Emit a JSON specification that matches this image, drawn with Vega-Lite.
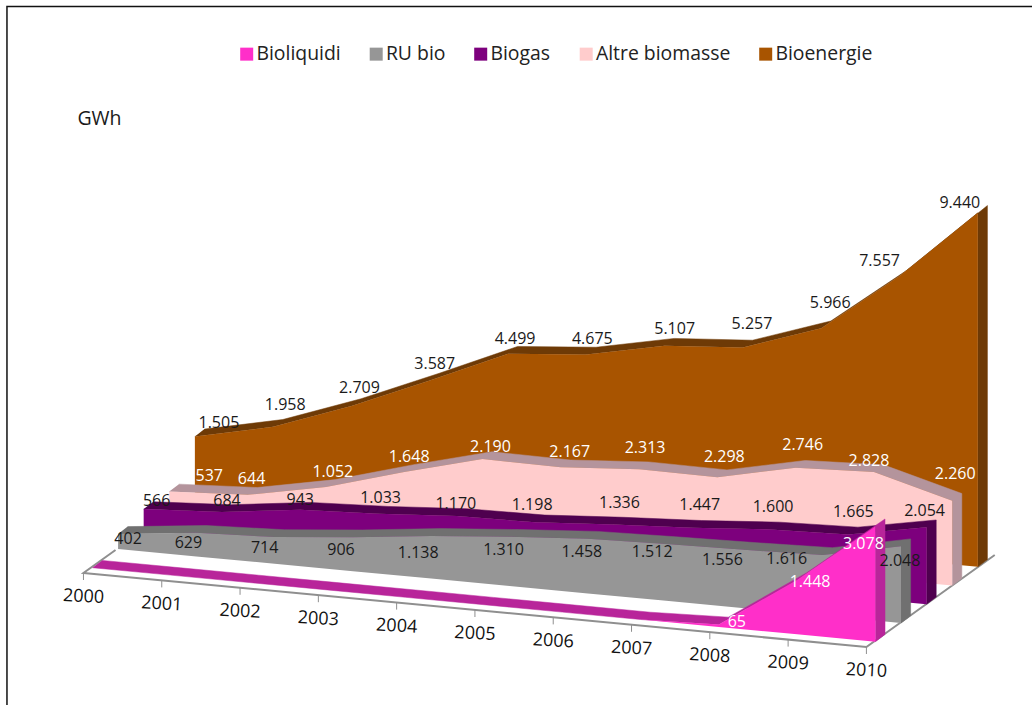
{
  "$schema": "https://vega.github.io/schema/vega-lite/v6.json",
  "width": 1032,
  "height": 705,
  "padding": 0,
  "autosize": {"type": "none"},
  "background": "white",
  "config": {
    "view": {"stroke": null},
    "axis": {"disable": true},
    "text": {"font": "Open Sans", "fontSize": 16, "baseline": "middle", "align": "center"}
  },
  "datasets": {
    "production": [
      {"series":"Bioliquidi","year":2000,"value":0},{"series":"Bioliquidi","year":2001,"value":0},{"series":"Bioliquidi","year":2002,"value":0},{"series":"Bioliquidi","year":2003,"value":0},{"series":"Bioliquidi","year":2004,"value":0},{"series":"Bioliquidi","year":2005,"value":0},{"series":"Bioliquidi","year":2006,"value":0},{"series":"Bioliquidi","year":2007,"value":0},{"series":"Bioliquidi","year":2008,"value":65},{"series":"Bioliquidi","year":2009,"value":1448},{"series":"Bioliquidi","year":2010,"value":3078},
      {"series":"RU bio","year":2000,"value":402},{"series":"RU bio","year":2001,"value":629},{"series":"RU bio","year":2002,"value":714},{"series":"RU bio","year":2003,"value":906},{"series":"RU bio","year":2004,"value":1138},{"series":"RU bio","year":2005,"value":1310},{"series":"RU bio","year":2006,"value":1458},{"series":"RU bio","year":2007,"value":1512},{"series":"RU bio","year":2008,"value":1556},{"series":"RU bio","year":2009,"value":1616},{"series":"RU bio","year":2010,"value":2048},
      {"series":"Biogas","year":2000,"value":566},{"series":"Biogas","year":2001,"value":684},{"series":"Biogas","year":2002,"value":943},{"series":"Biogas","year":2003,"value":1033},{"series":"Biogas","year":2004,"value":1170},{"series":"Biogas","year":2005,"value":1198},{"series":"Biogas","year":2006,"value":1336},{"series":"Biogas","year":2007,"value":1447},{"series":"Biogas","year":2008,"value":1600},{"series":"Biogas","year":2009,"value":1665},{"series":"Biogas","year":2010,"value":2054},
      {"series":"Altre biomasse","year":2000,"value":537},{"series":"Altre biomasse","year":2001,"value":644},{"series":"Altre biomasse","year":2002,"value":1052},{"series":"Altre biomasse","year":2003,"value":1648},{"series":"Altre biomasse","year":2004,"value":2190},{"series":"Altre biomasse","year":2005,"value":2167},{"series":"Altre biomasse","year":2006,"value":2313},{"series":"Altre biomasse","year":2007,"value":2298},{"series":"Altre biomasse","year":2008,"value":2746},{"series":"Altre biomasse","year":2009,"value":2828},{"series":"Altre biomasse","year":2010,"value":2260},
      {"series":"Bioenergie","year":2000,"value":1505},{"series":"Bioenergie","year":2001,"value":1958},{"series":"Bioenergie","year":2002,"value":2709},{"series":"Bioenergie","year":2003,"value":3587},{"series":"Bioenergie","year":2004,"value":4499},{"series":"Bioenergie","year":2005,"value":4675},{"series":"Bioenergie","year":2006,"value":5107},{"series":"Bioenergie","year":2007,"value":5257},{"series":"Bioenergie","year":2008,"value":5966},{"series":"Bioenergie","year":2009,"value":7557},{"series":"Bioenergie","year":2010,"value":9440}
    ],
    "floor": [
      {"order":0,"year":2000,"depth":0.25},
      {"order":1,"year":2000,"depth":0},
      {"order":2,"year":2010,"depth":0},
      {"order":3,"year":2010,"depth":1}
    ],
    "caption": [{"label":"GWh","px":2000.09,"py":11966}],
    "frame": [
      {"order":0,"px":1998.908,"py":-3661},
      {"order":1,"px":1998.908,"py":14966},
      {"order":2,"px":2012,"py":14966}
    ]
  },
  "data": {"name": "production"},
  "transform": [
    {"calculate": "indexof(['Bioliquidi','RU bio','Biogas','Altre biomasse','Bioenergie'],datum.series)", "as": "row"},
    {"calculate": "datum.year-2000", "as": "t"},
    {"calculate": "datum.year+0.327*datum.row", "as": "gx"},
    {"calculate": "499*datum.row-197.3*datum.t", "as": "base"},
    {"calculate": "datum.base+datum.value", "as": "top"},
    {"calculate": "datum.gx", "as": "px"},
    {"calculate": "datum.top", "as": "py"}
  ],
  "encoding": {
    "x": {"field": "px", "type": "quantitative", "scale": {"domain": [1998.819, 2012], "nice": false, "zero": false}},
    "y": {"field": "py", "type": "quantitative", "scale": {"domain": [-3661, 15139], "nice": false, "zero": false}}
  },
  "layer": [
    {
      "data": {"name": "frame"},
      "mark": {"type": "line", "stroke": "#111111", "strokeWidth": 1.5},
      "encoding": {"order": {"field": "order", "type": "quantitative"}}
    },
    {
      "data": {"name": "caption"},
      "mark": {"type": "text", "fontSize": 19.5, "fill": "#1a1a1a"},
      "encoding": {"text": {"field": "label", "type": "nominal"}}
    },
    {
      "data": {"name": "floor"},
      "transform": [
        {"calculate": "datum.year-0.115+1.639*datum.depth", "as": "px"},
        {"calculate": "-141-197.3*(datum.year-2000)+2453*datum.depth", "as": "py"}
      ],
      "mark": {"type": "line", "stroke": "#8f8f8f", "strokeWidth": 2},
      "encoding": {"order": {"field": "order", "type": "quantitative"}}
    },
    {
      "transform": [
        {"filter": "datum.row==0"},
        {"calculate": "datum.year-0.115", "as": "px"},
        {"calculate": "-141-197.3*datum.t", "as": "py"},
        {"calculate": "datum.py-187", "as": "tickEnd"}
      ],
      "mark": {"type": "rule", "stroke": "#8f8f8f", "strokeWidth": 1},
      "encoding": {"y2": {"field": "tickEnd"}}
    },
    {
      "transform": [
        {"filter": "datum.row==0"},
        {"calculate": "datum.year-0.115", "as": "px"},
        {"calculate": "-141-197.3*datum.t-640", "as": "py"}
      ],
      "mark": {"type": "text", "angle": 3, "fontSize": 18, "fill": "#111111"},
      "encoding": {"text": {"field": "year", "type": "ordinal"}}
    },

    {
      "transform": [
        {"filter": "datum.series=='Bioenergie'"},
        {"calculate": "datum.t==10?[0,1,2,3]:[0,1]", "as": "vertex"},
        {"flatten": ["vertex"]},
        {"calculate": "datum.vertex==0?datum.t:datum.vertex==3?11:datum.vertex==2?12:23-datum.t", "as": "seq"},
        {"calculate": "datum.gx+(datum.vertex==1||datum.vertex==2?0.1226:0)", "as": "px"},
        {"calculate": "(datum.vertex>=2?datum.base:datum.top)+(datum.vertex==1||datum.vertex==2?195:0)", "as": "py"}
      ],
      "mark": {"type": "line", "fill": "#6e3a06", "stroke": "#6e3a06", "strokeWidth": 0.5},
      "encoding": {"order": {"field": "seq", "type": "quantitative"}}
    },
    {
      "transform": [{"filter": "datum.series=='Bioenergie'"}],
      "mark": {"type": "area", "opacity": 1},
      "encoding": {
        "y2": {"field": "base"},
        "color": {"field": "series", "type": "nominal",
          "scale": {"domain": ["Bioliquidi","RU bio","Biogas","Altre biomasse","Bioenergie"], "range": ["#ff2fc9","#969696","#7d007d","#ffcccc","#a85400"]},
          "legend": {"title": null, "orient": "none", "legendX": 237, "legendY": 44, "direction": "horizontal", "columns": 5, "symbolType": "square", "symbolSize": 169, "symbolStrokeWidth": 0, "columnPadding": 25.5, "labelOffset": 0, "labelFont": "Open Sans", "labelFontSize": 19.4, "labelColor": "#222222", "labelLimit": 0}
        }
      }
    },

    {
      "transform": [
        {"filter": "datum.series=='Altre biomasse'"},
        {"calculate": "datum.t==10?[0,1,2,3]:[0,1]", "as": "vertex"},
        {"flatten": ["vertex"]},
        {"calculate": "datum.vertex==0?datum.t:datum.vertex==3?11:datum.vertex==2?12:23-datum.t", "as": "seq"},
        {"calculate": "datum.gx+(datum.vertex==1||datum.vertex==2?0.1226:0)", "as": "px"},
        {"calculate": "(datum.vertex>=2?datum.base:datum.top)+(datum.vertex==1||datum.vertex==2?195:0)", "as": "py"}
      ],
      "mark": {"type": "line", "fill": "#b4949c", "stroke": "#b4949c", "strokeWidth": 0.5},
      "encoding": {"order": {"field": "seq", "type": "quantitative"}}
    },
    {
      "transform": [{"filter": "datum.series=='Altre biomasse'"}],
      "mark": {"type": "area", "opacity": 1},
      "encoding": {"y2": {"field": "base"}, "color": {"field": "series", "type": "nominal"}}
    },

    {
      "transform": [
        {"filter": "datum.series=='Biogas'"},
        {"calculate": "datum.t==10?[0,1,2,3]:[0,1]", "as": "vertex"},
        {"flatten": ["vertex"]},
        {"calculate": "datum.vertex==0?datum.t:datum.vertex==3?11:datum.vertex==2?12:23-datum.t", "as": "seq"},
        {"calculate": "datum.gx+(datum.vertex==1||datum.vertex==2?0.1226:0)", "as": "px"},
        {"calculate": "(datum.vertex>=2?datum.base:datum.top)+(datum.vertex==1||datum.vertex==2?195:0)", "as": "py"}
      ],
      "mark": {"type": "line", "fill": "#4f004f", "stroke": "#4f004f", "strokeWidth": 0.5},
      "encoding": {"order": {"field": "seq", "type": "quantitative"}}
    },
    {
      "transform": [{"filter": "datum.series=='Biogas'"}],
      "mark": {"type": "area", "opacity": 1},
      "encoding": {"y2": {"field": "base"}, "color": {"field": "series", "type": "nominal"}}
    },

    {
      "transform": [
        {"filter": "datum.series=='RU bio'"},
        {"calculate": "datum.t==10?[0,1,2,3]:[0,1]", "as": "vertex"},
        {"flatten": ["vertex"]},
        {"calculate": "datum.vertex==0?datum.t:datum.vertex==3?11:datum.vertex==2?12:23-datum.t", "as": "seq"},
        {"calculate": "datum.gx+(datum.vertex==1||datum.vertex==2?0.1226:0)", "as": "px"},
        {"calculate": "(datum.vertex>=2?datum.base:datum.top)+(datum.vertex==1||datum.vertex==2?195:0)", "as": "py"}
      ],
      "mark": {"type": "line", "fill": "#707070", "stroke": "#707070", "strokeWidth": 0.5},
      "encoding": {"order": {"field": "seq", "type": "quantitative"}}
    },
    {
      "transform": [{"filter": "datum.series=='RU bio'"}],
      "mark": {"type": "area", "opacity": 1},
      "encoding": {"y2": {"field": "base"}, "color": {"field": "series", "type": "nominal"}}
    },

    {
      "transform": [
        {"filter": "datum.series=='Bioliquidi'"},
        {"calculate": "datum.t==10?[0,1,2,3]:[0,1]", "as": "vertex"},
        {"flatten": ["vertex"]},
        {"calculate": "datum.vertex==0?datum.t:datum.vertex==3?11:datum.vertex==2?12:23-datum.t", "as": "seq"},
        {"calculate": "datum.gx+(datum.vertex==1||datum.vertex==2?0.1226:0)", "as": "px"},
        {"calculate": "(datum.vertex>=2?datum.base:datum.top)+(datum.vertex==1||datum.vertex==2?195:0)", "as": "py"}
      ],
      "mark": {"type": "line", "fill": "#b8259a", "stroke": "#b8259a", "strokeWidth": 0.5},
      "encoding": {"order": {"field": "seq", "type": "quantitative"}}
    },
    {
      "transform": [{"filter": "datum.series=='Bioliquidi'"}],
      "mark": {"type": "area", "opacity": 1},
      "encoding": {"y2": {"field": "base"}, "color": {"field": "series", "type": "nominal"}}
    },

    {
      "transform": [
        {"filter": "datum.value>0"},
        {"calculate": "replace(format(datum.value,','),',','.')", "as": "label"},
        {"calculate": "[[0,0,0,0,0,0,0,0,18,13,-12],[10,-8,-10,-12,-13,-6,-6,-14,-22,-36,-1],[13,5,0,2,-1,-3,6,8,3,5,-2],[40,4,7,5,8,9,6,7,7,-5,3],[24,12,8,5,7,6,10,9,9,-20,-18]][datum.row][datum.t]", "as": "shiftX"},
        {"calculate": "[[0,0,0,0,0,0,0,0,-2,2,18],[5,10,11,13,17,13,13,8,10,4,15],[-8,-11,-10,-16,-12,-17,-22,-23,-22,-22,-16],[-15,-16,-15,-15,-12,-15,-21,-20,-23,-11,-27],[-13.5,-22,-18,-17,-15,-16,-17,-24,-25,-15,-10]][datum.row][datum.t]", "as": "shiftY"},
        {"calculate": "datum.gx+datum.shiftX/78.3", "as": "px"},
        {"calculate": "datum.top-datum.shiftY/0.0375", "as": "py"},
        {"calculate": "datum.row==0||datum.row==3?'#ffffff':'#1a1a1a'", "as": "ink"}
      ],
      "mark": {"type": "text"},
      "encoding": {
        "text": {"field": "label", "type": "nominal"},
        "fill": {"field": "ink", "type": "nominal", "scale": null}
      }
    }
  ]
}
